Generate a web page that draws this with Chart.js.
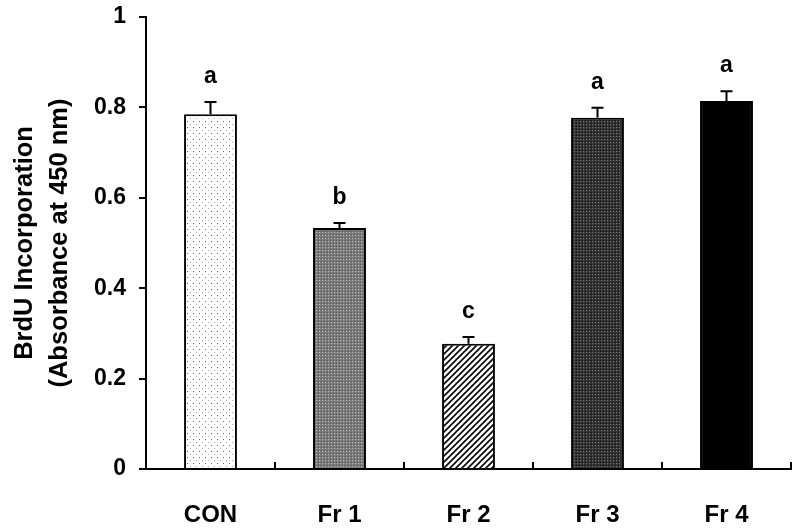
<!DOCTYPE html>
<html>
<head>
<meta charset="utf-8">
<script src="https://cdn.jsdelivr.net/npm/chart.js@4"></script>
<style>
  html, body { margin: 0; padding: 0; background: #fff; }
  #wrap { width: 796px; height: 529px; }
</style>
</head>
<body>
<div id="wrap"><canvas id="brduChart"></canvas></div>
<script>
// data
const categories = ["CON", "Fr 1", "Fr 2", "Fr 3", "Fr 4"];
const means = [0.785, 0.533, 0.277, 0.777, 0.814];
const errors = [0.027, 0.011, 0.015, 0.022, 0.022];
const letters = ["a", "b", "c", "a", "a"];

const FONT = "'Liberation Sans', Arial, sans-serif";

// little tiles for the bar fills
function makeTile(size, draw) {
    const c = document.createElement("canvas");
    c.width = size;
    c.height = size;
    const g = c.getContext("2d");
    draw(g);
    return document.createElement("canvas").getContext("2d").createPattern(c, "repeat");
}

const dots = makeTile(6, g => {
    g.fillStyle = "#fff";
    g.fillRect(0, 0, 6, 6);
    g.fillStyle = "#666";
    g.fillRect(1, 1, 1, 1);
    g.fillStyle = "#aaa";
    g.fillRect(4, 4, 1, 1);
});
const midGray = makeTile(3, g => {
    g.fillStyle = "#7a7a7a";
    g.fillRect(0, 0, 3, 3);
    g.fillStyle = "#bbb";
    g.fillRect(1, 1, 1, 1);
    g.fillStyle = "#555";
    g.fillRect(0, 0, 1, 1);
});
const hatch = makeTile(6, g => {
    g.fillStyle = "#fff";
    g.fillRect(0, 0, 6, 6);
    g.strokeStyle = "#000";
    g.lineWidth = 1.6;
    g.beginPath();
    g.moveTo(-1, 7); g.lineTo(7, -1);
    g.moveTo(-4, 4); g.lineTo(4, -4);
    g.moveTo(2, 10); g.lineTo(10, 2);
    g.stroke();
});
const darkGray = makeTile(3, g => {
    g.fillStyle = "#333";
    g.fillRect(0, 0, 3, 3);
    g.fillStyle = "#777";
    g.fillRect(1, 1, 1, 1);
    g.fillStyle = "#111";
    g.fillRect(0, 0, 1, 1);
});

// error bars (upper only) and the letters above them
const errorBars = {
    id: "errorBars",
    afterDatasetsDraw(chart) {
        const ctx = chart.ctx;
        const x = chart.scales.x, y = chart.scales.y;
        ctx.save();
        ctx.strokeStyle = "#000";
        ctx.lineWidth = 2;
        ctx.fillStyle = "#000";
        ctx.font = "bold 23px " + FONT;
        ctx.textAlign = "center";
        ctx.textBaseline = "alphabetic";
        for (let i = 0; i < means.length; i++) {
            const cx = x.getPixelForValue(i);
            const y0 = y.getPixelForValue(means[i]);
            const y1 = y.getPixelForValue(means[i] + errors[i]);
            ctx.beginPath();
            ctx.moveTo(cx, y0);
            ctx.lineTo(cx, y1);
            ctx.moveTo(cx - 6, y1);
            ctx.lineTo(cx + 6, y1);
            ctx.stroke();
            ctx.fillText(letters[i], cx, y1 - 19);
        }
        ctx.restore();
    }
};

// x axis tick marks point up, between the categories
const innerTicks = {
    id: "innerTicks",
    afterDraw(chart) {
        const ctx = chart.ctx;
        const x = chart.scales.x;
        const base = chart.chartArea.bottom;
        ctx.save();
        ctx.strokeStyle = "#000";
        ctx.lineWidth = 2;
        ctx.beginPath();
        for (let i = 0; i < categories.length; i++) {
            const px = x.getPixelForValue(i + 0.5);
            ctx.moveTo(px, base);
            ctx.lineTo(px, base - 7);
        }
        ctx.stroke();
        ctx.restore();
    }
};

const ctxB = document.getElementById("brduChart").getContext("2d");
const brduChart = new Chart(ctxB, {
    type: "bar",
    data: {
        labels: categories,
        datasets: [{
            data: means,
            backgroundColor: [dots, midGray, hatch, darkGray, "#000"],
            borderColor: "#000",
            borderWidth: 2,
            barPercentage: 0.41,
            categoryPercentage: 1
        }]
    },
    options: {
        responsive: true,
        maintainAspectRatio: false,
        animation: false,
        layout: { padding: { top: 17, right: 5, left: 0, bottom: 0 } },
        plugins: {
            legend: { display: false },
            tooltip: { enabled: false }
        },
        scales: {
            x: {
                grid: { display: false },
                border: { display: true, color: "#000", width: 2 },
                ticks: {
                    color: "#000",
                    padding: 24,
                    font: { family: FONT, size: 24, weight: "bold" }
                },
                afterFit: s => { s.height = 60; s.paddingLeft = 0; s.paddingRight = 0; }
            },
            y: {
                min: 0,
                max: 1,
                ticks: {
                    stepSize: 0.2,
                    color: "#000",
                    padding: 13,
                    font: { family: FONT, size: 23, weight: "bold" },
                    callback: v => String(parseFloat(v.toFixed(1)))
                },
                grid: {
                    drawOnChartArea: false,
                    drawTicks: true,
                    tickLength: 7,
                    color: "#000",
                    lineWidth: 2
                },
                border: { display: true, color: "#000", width: 2 },
                title: {
                    display: true,
                    text: ["BrdU Incorporation", "(Absorbance at 450 nm)"],
                    color: "#000",
                    padding: { top: 7.5, bottom: 0 },
                    font: { family: FONT, size: 25.5, weight: "bold", lineHeight: 1.37 }
                },
                afterFit: s => { s.width = 146; s.paddingTop = 0; s.paddingBottom = 0; }
            }
        }
    },
    plugins: [errorBars, innerTicks]
});
</script>
</body>
</html>
